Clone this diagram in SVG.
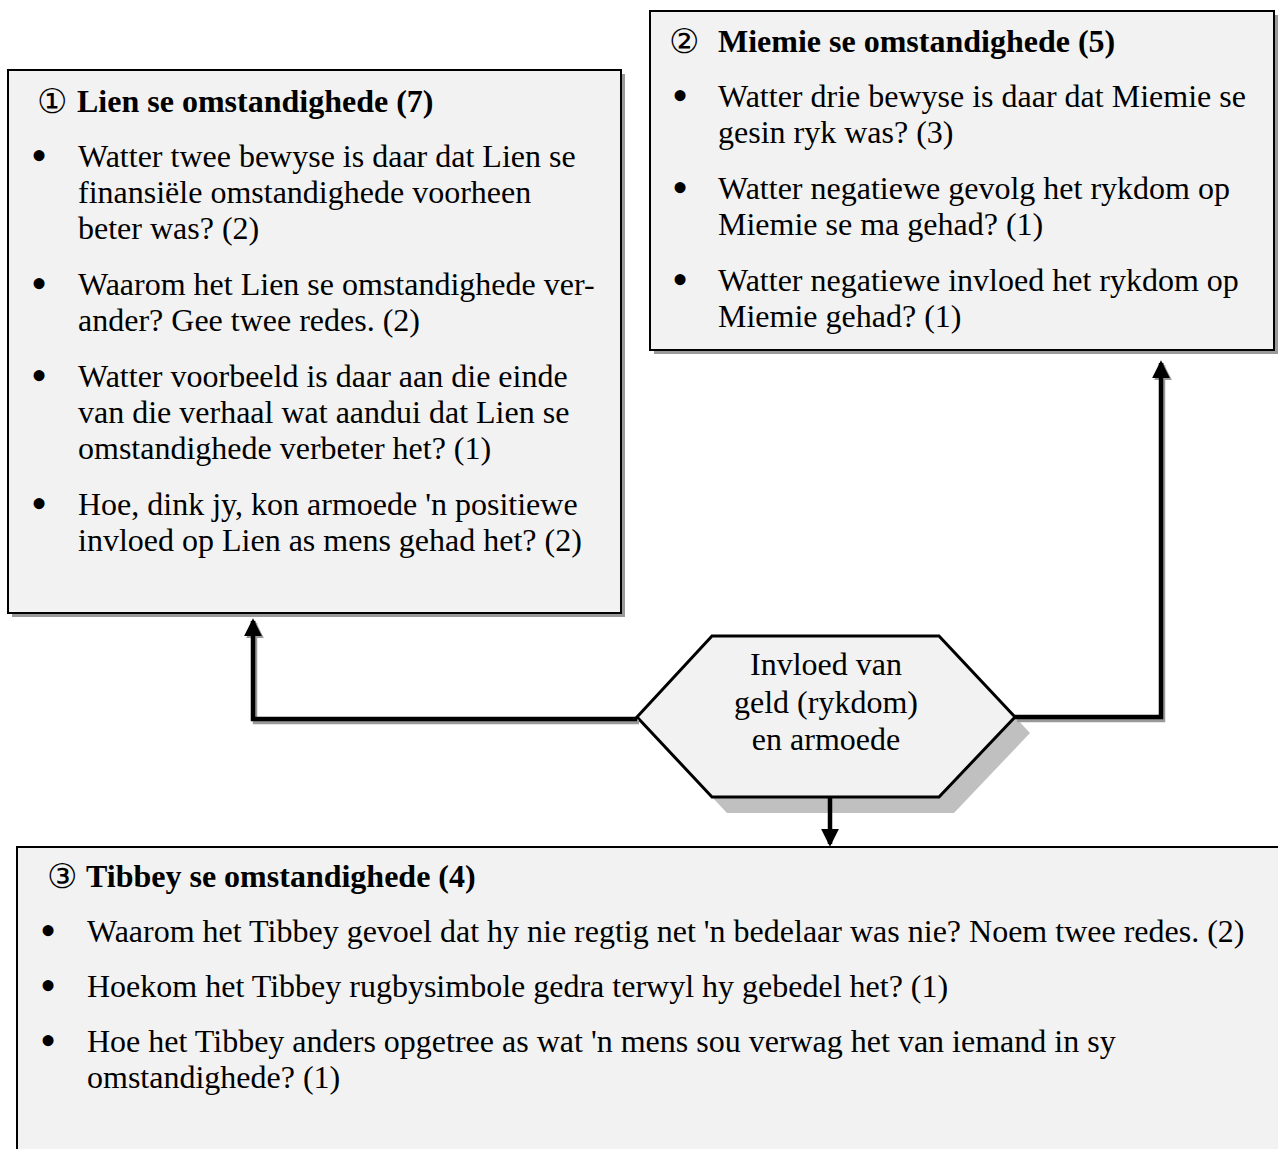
<svg xmlns="http://www.w3.org/2000/svg" width="1278" height="1149" viewBox="0 0 1278 1149">
<style>
.box{fill:#f2f2f2;stroke:#000;stroke-width:2}
.shadow{fill:#999}
.t{font-family:"Liberation Serif","Times New Roman",serif;font-size:32px;fill:#000}
.b{font-weight:bold}
.bl{font-family:"Liberation Serif","Times New Roman",serif;font-size:46px;fill:#000}
.c{font-family:"DejaVu Sans","Noto Sans CJK SC",sans-serif;font-size:34px;fill:#000}
.ln{fill:none;stroke:#000;stroke-width:4.5}
.lns{fill:none;stroke:#999;stroke-width:4.5}
</style>
<defs>
<marker id="ah" markerWidth="4" markerHeight="4" refX="3.4" refY="2" orient="auto" markerUnits="strokeWidth" viewBox="0 0 4 4"><path d="M0,0 L4,2 L0,4 Z" fill="#000"/></marker>
<marker id="ahs" markerWidth="4" markerHeight="4" refX="3.4" refY="2" orient="auto" markerUnits="strokeWidth" viewBox="0 0 4 4"><path d="M0,0 L4,2 L0,4 Z" fill="#999"/></marker>
</defs>
<g id="lien">
<rect class="shadow" x="12" y="74" width="613" height="543"/>
<rect class="box" x="8" y="70" width="613" height="543"/>
<text class="c" x="37" y="113">①</text>
<text class="t b" x="77" y="112">Lien se omstandighede (7)</text>
<text class="bl" x="39" y="171" text-anchor="middle">•</text>
<text class="t" x="78" y="167">Watter twee bewyse is daar dat Lien se</text>
<text class="t" x="78" y="203">finansiële omstandighede voorheen</text>
<text class="t" x="78" y="239">beter was? (2)</text>
<text class="bl" x="39" y="299" text-anchor="middle">•</text>
<text class="t" x="78" y="295">Waarom het Lien se omstandighede ver-</text>
<text class="t" x="78" y="331">ander? Gee twee redes. (2)</text>
<text class="bl" x="39" y="391" text-anchor="middle">•</text>
<text class="t" x="78" y="387">Watter voorbeeld is daar aan die einde</text>
<text class="t" x="78" y="423">van die verhaal wat aandui dat Lien se</text>
<text class="t" x="78" y="459">omstandighede verbeter het? (1)</text>
<text class="bl" x="39" y="519" text-anchor="middle">•</text>
<text class="t" x="78" y="515">Hoe, dink jy, kon armoede 'n positiewe</text>
<text class="t" x="78" y="551">invloed op Lien as mens gehad het? (2)</text>
</g>
<g id="miemie">
<rect class="shadow" x="654" y="15" width="624" height="339"/>
<rect class="box" x="650" y="11" width="624" height="339"/>
<text class="c" x="669" y="53">②</text>
<text class="t b" x="718" y="52">Miemie se omstandighede (5)</text>
<text class="bl" x="680" y="111" text-anchor="middle">•</text>
<text class="t" x="718" y="107">Watter drie bewyse is daar dat Miemie se</text>
<text class="t" x="718" y="143">gesin ryk was? (3)</text>
<text class="bl" x="680" y="203" text-anchor="middle">•</text>
<text class="t" x="718" y="199">Watter negatiewe gevolg het rykdom op</text>
<text class="t" x="718" y="235">Miemie se ma gehad? (1)</text>
<text class="bl" x="680" y="295" text-anchor="middle">•</text>
<text class="t" x="718" y="291">Watter negatiewe invloed het rykdom op</text>
<text class="t" x="718" y="327">Miemie gehad? (1)</text>
</g>
<g id="hub">
<polygon points="652,733 727,652 954,652 1030,733 954,813 727,813" fill="#c0c0c0"/>
<polygon points="637,717 712,636 939,636 1015,717 939,797 712,797" fill="#f2f2f2" stroke="#000" stroke-width="3"/>
<text class="t" x="826" y="675" text-anchor="middle">Invloed van</text>
<text class="t" x="826" y="713" text-anchor="middle">geld (rykdom)</text>
<text class="t" x="826" y="750" text-anchor="middle">en armoede</text>
</g>
<g id="tibbey">
<rect class="shadow" x="21" y="851" width="1270" height="320"/>
<rect class="box" x="17" y="847" width="1270" height="320"/>
<text class="c" x="47" y="888">③</text>
<text class="t b" x="86" y="887">Tibbey se omstandighede (4)</text>
<text class="bl" x="48" y="946" text-anchor="middle">•</text>
<text class="t" x="87" y="942">Waarom het Tibbey gevoel dat hy nie regtig net 'n bedelaar was nie? Noem twee redes. (2)</text>
<text class="bl" x="48" y="1001" text-anchor="middle">•</text>
<text class="t" x="87" y="997">Hoekom het Tibbey rugbysimbole gedra terwyl hy gebedel het? (1)</text>
<text class="bl" x="48" y="1056" text-anchor="middle">•</text>
<text class="t" x="87" y="1052">Hoe het Tibbey anders opgetree as wat 'n mens sou verwag het van iemand in sy</text>
<text class="t" x="87" y="1088">omstandighede? (1)</text>
</g>
<g id="connectors">
<polyline class="lns" points="639,722 255,722 255,623" marker-end="url(#ahs)"/>
<polyline class="lns" points="1017,720 1163,720 1163,365" marker-end="url(#ahs)"/>
<polyline class="ln" points="637,719 253,719 253,621" marker-end="url(#ah)"/>
<polyline class="ln" points="1015,717 1161,717 1161,363" marker-end="url(#ah)"/>
<polyline class="ln" points="830,798 830,844" marker-end="url(#ah)"/>
</g>
</svg>
